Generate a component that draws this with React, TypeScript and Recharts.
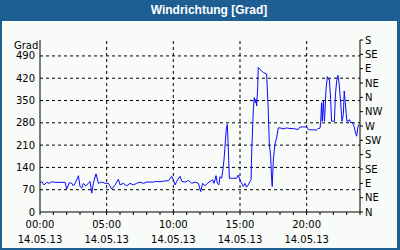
import { LineChart, Line, XAxis, YAxis, CartesianGrid, ReferenceLine } from "recharts";

// minutes since 00:00 on 14.05.13
const times = [
  0, 8, 18, 30, 42, 53, 68, 90, 113, 120, 132, 143, 150, 158, 173, 180, 188, 195, 206, 218,
  225, 233, 240, 252, 263, 278, 293, 308, 323, 338, 353, 360, 375, 390, 405, 420, 435, 450,
  465, 480, 495, 510, 525, 540, 555, 578, 593, 600, 608, 615, 630, 638, 653, 668, 683, 698,
  713, 723, 732, 743, 750, 765, 777, 783, 792, 798, 805, 810, 817, 822, 828, 832, 838, 843,
  847, 852, 870, 885, 892, 903, 915, 922, 930, 937, 945, 950, 952, 960, 964, 969, 972, 975,
  980, 982, 990, 997, 1005, 1020, 1027, 1032, 1038, 1042, 1045, 1050, 1057, 1065, 1072,
  1080, 1095, 1110, 1125, 1140, 1162, 1170, 1185, 1200, 1208, 1215, 1237, 1242, 1252, 1260,
  1263, 1267, 1270, 1275, 1280, 1283, 1287, 1293, 1297, 1302, 1308, 1312, 1325, 1329, 1335,
  1341, 1347, 1353, 1359, 1365, 1369, 1375, 1381, 1387, 1392, 1398, 1405, 1413, 1420, 1425,
  1430, 1435,
];

// wind direction in degrees
const values = [
  92, 95, 85, 93, 90, 95, 93, 93, 93, 72, 92, 90, 82, 90, 114, 80, 75, 90, 82, 90,
  96, 59, 90, 120, 90, 94, 90, 90, 72, 85, 103, 85, 90, 82, 90, 85, 90, 94,
  90, 94, 94, 94, 96, 95, 97, 98, 112, 101, 85, 96, 112, 96, 94, 99, 90, 94,
  90, 64, 90, 82, 88, 96, 101, 90, 114, 90, 85, 111, 106, 127, 164, 200, 259, 275,
  206, 106, 106, 106, 116, 96, 80, 90, 78, 85, 96, 101, 175, 322, 359, 343, 354, 333,
  396, 454, 448, 443, 438, 433, 322, 212, 175, 106, 80, 164, 212, 233, 264,
  264, 261, 264, 262, 262, 259, 267, 267, 267, 259, 258, 258, 256, 262, 263,
  280, 343, 285, 348, 285, 322, 385, 425, 417, 417, 354, 285, 285, 364, 412,
  429, 396, 343, 285, 306, 380, 333, 285, 285, 290, 280, 282, 269, 248, 238,
  264, 275,
];

const degreeTicks = [0, 70, 140, 210, 280, 350, 420, 490];
const dirTicks = [0, 45, 90, 135, 180, 225, 270, 315, 360, 405, 450, 495, 540];
const dirLabels = ["N", "NE", "E", "SE", "S", "SW", "W", "NW", "N", "NE", "E", "SE", "S"];
const hourTicks = Array.from({ length: 25 }, (_, i) => i * 60);
const majorTicks = [0, 300, 600, 900, 1200];
const majorLabels = ["00:00", "05:00", "10:00", "15:00", "20:00"];
const dateLabel = "14.05.13";

const data = times.map((t, i) => ({ t, v: values[i] }));

const font = "'DejaVu Sans', sans-serif";

const TimeTick = (props: any) => {
  const { x, y, payload } = props;
  const idx = majorTicks.indexOf(payload.value);
  if (idx < 0) return <g />;
  return (
    <g>
      <text x={x} y={y + 13} textAnchor="middle" fontFamily={font} fontSize={10} fill="#000">
        {majorLabels[idx]}
      </text>
      <text x={x} y={y + 28} textAnchor="middle" fontFamily={font} fontSize={10} fill="#000">
        {dateLabel}
      </text>
    </g>
  );
};

export default function App() {
  return (
    <div
      style={{
        position: "absolute",
        left: 0,
        top: 0,
        width: 400,
        height: 250,
        background: "#1d5e93",
      }}
    >
      <div
        style={{
          position: "absolute",
          left: 2,
          top: 21,
          width: 395,
          height: 227,
          background: "#f8fbf8",
        }}
      />
      <div
        style={{
          position: "absolute",
          left: 0,
          top: 3,
          width: 418,
          textAlign: "center",
          color: "#fff",
          fontFamily: "'Liberation Sans', Arial, sans-serif",
          fontWeight: "bold",
          fontSize: 12,
          lineHeight: "14px",
        }}
      >
        Windrichtung [Grad]
      </div>
      <div
        style={{
          position: "absolute",
          left: 14,
          top: 40,
          fontFamily: font,
          fontSize: 10,
          lineHeight: "12px",
          color: "#000",
        }}
      >
        Grad
      </div>
      <div style={{ position: "absolute", left: 0, top: 0 }}>
        <LineChart width={400} height={250} data={data} margin={{ top: 40, right: 0, bottom: 8, left: 0 }}>
          <CartesianGrid
            xAxisId="main"
            yAxisId="left"
            vertical={false}
            horizontalValues={degreeTicks.slice(1)}
            stroke="#000"
            strokeDasharray="3 3"
          />
          {majorTicks.slice(1).map((t) => (
            <ReferenceLine
              key={t}
              x={t}
              xAxisId="main"
              yAxisId="left"
              stroke="#000"
              strokeDasharray="3 3"
            />
          ))}
          <XAxis
            xAxisId="main"
            dataKey="t"
            type="number"
            domain={[0, 1440]}
            ticks={hourTicks}
            interval={0}
            height={30}
            tickSize={3}
            tickMargin={0}
            stroke="#000"
            tick={<TimeTick />}
          />
          <XAxis
            xAxisId="top"
            dataKey="t"
            orientation="top"
            type="number"
            domain={[0, 1440]}
            height={0}
            tick={false}
            tickLine={false}
            stroke="#000"
          />
          <YAxis
            yAxisId="left"
            type="number"
            domain={[0, 540]}
            ticks={degreeTicks}
            interval={0}
            width={40}
            tickLine={false}
            tickSize={4}
            tickMargin={1}
            stroke="#000"
            tick={{ fontFamily: font, fontSize: 10, fill: "#000" }}
          />
          <YAxis
            yAxisId="dir"
            orientation="right"
            type="number"
            domain={[0, 540]}
            ticks={dirTicks}
            interval={0}
            width={40}
            tickSize={3}
            tickMargin={2}
            stroke="#000"
            tickFormatter={(v: number) => dirLabels[dirTicks.indexOf(v)]}
            tick={{ fontFamily: font, fontSize: 10, fill: "#000" }}
          />
          <Line
            xAxisId="top"
            yAxisId="dir"
            dataKey="v"
            type="linear"
            stroke="none"
            dot={false}
            activeDot={false}
            legendType="none"
            isAnimationActive={false}
          />
          <Line
            xAxisId="main"
            yAxisId="left"
            dataKey="v"
            type="linear"
            stroke="#0a0aff"
            strokeWidth={1}
            dot={false}
            isAnimationActive={false}
          />
        </LineChart>
      </div>
    </div>
  );
}
